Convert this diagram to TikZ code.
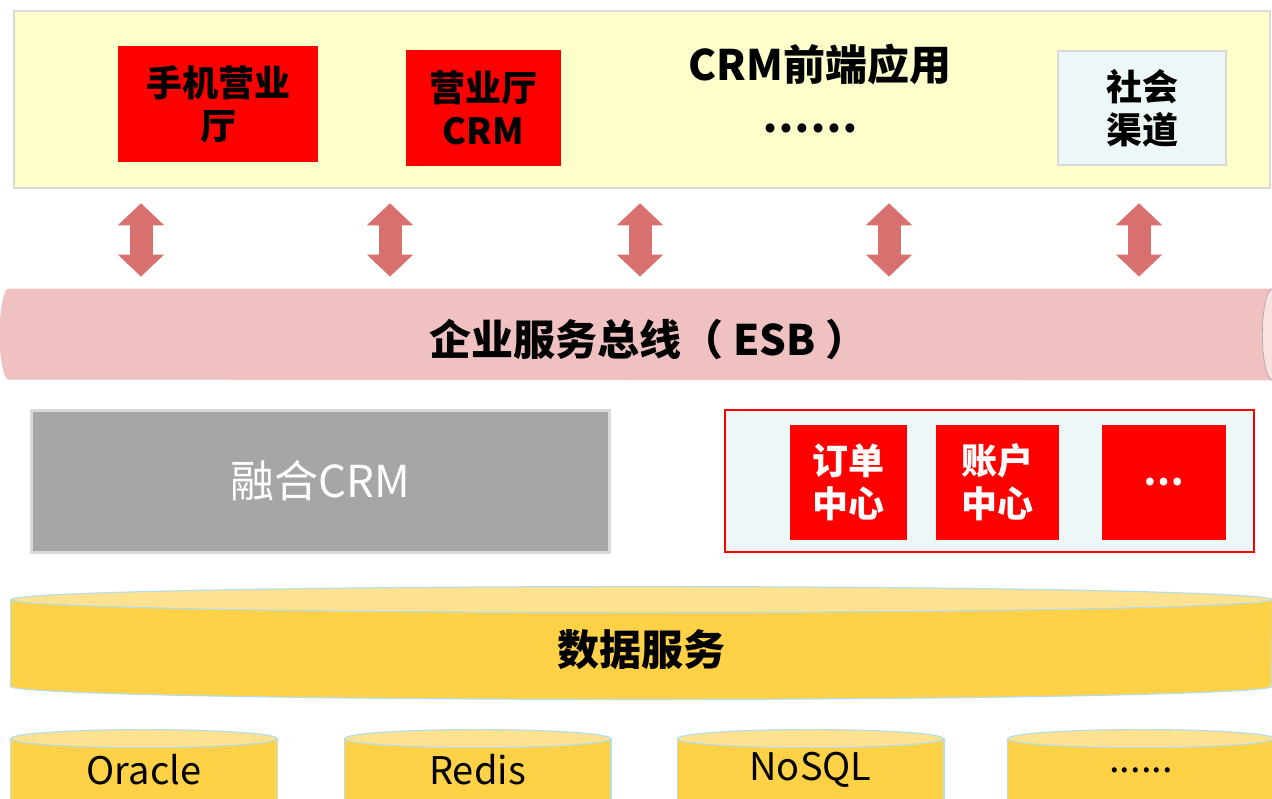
\documentclass[tikz,border=0pt]{standalone}
\usepackage{fontspec}
\setmainfont{Noto Sans CJK SC}
\usepackage{tikz}
\usetikzlibrary{arrows.meta, positioning}
\definecolor{linegray}{HTML}{D9D9D9}
\definecolor{frontbg}{HTML}{FFFFCC}
\definecolor{paleblue}{HTML}{EEF7F7}
\definecolor{appred}{HTML}{FF0000}
\definecolor{busred}{HTML}{D97070}
\definecolor{esbbody}{HTML}{F0C1C1}
\definecolor{esbend}{HTML}{F8E2E2}
\definecolor{fusiongray}{HTML}{A6A6A6}
\definecolor{dbbody}{HTML}{FFD147}
\definecolor{dbtop}{HTML}{FFE290}
\definecolor{dbline}{HTML}{B7DDE6}
\newcommand{\moredots}{......}
\tikzset{
    framenode/.style = {draw=linegray, rectangle, inner sep=0em, line width=1.25pt, align=center},
    appnode/.style = {rectangle, fill=appred, inner sep=0em, align=center,
      font=\bfseries\fontsize{18}{21.5}\selectfont},
    centernode/.style = {appnode, text=white},
    textnode/.style = {draw=none, fill=none, inner sep=0em, font=\bfseries\fontsize{21}{25}\selectfont},
    bodynode/.style = {rectangle, draw=none, inner sep=0em},
    dbbodyline/.style = {fill=dbbody, draw=dbline, line width=0.6pt},
    dbtopline/.style = {fill=dbtop, draw=dbline, line width=0.6pt},
    busarrow/.style = {busred, line width=11.5pt, shorten <=7pt, shorten >=6pt,
      {Triangle[width=22.5pt,length=11pt]}-{Triangle[width=22.5pt,length=11pt]}}
}
\begin{document}
\begin{tikzpicture}[x=0.5pt, y=-0.5pt]
    \clip (0,0) rectangle (1272,798);
    \fill[white] (0,0) rectangle (1272,798);

    % front-end applications
    \node [name=front, framenode, fill=frontbg, minimum width=628pt, minimum height=88.5pt] at (642,99.5) {};
    \node [name=mobile, appnode, minimum width=100pt, minimum height=58pt] at (218,104) {手机营业\\厅};
    \node [name=hall, appnode, minimum width=77.5pt, minimum height=58pt] at (483.5,108) {营业厅\\CRM};
    \node [name=fronttitle, textnode] at (820,64) {CRM前端应用};
    \node [name=frontdots, textnode] at (810,128) {……};
    \node [name=social, framenode, fill=paleblue, minimum width=84pt, minimum height=57pt,
      font=\bfseries\fontsize{18}{21.5}\selectfont] at (1142,108) {社会\\渠道};

    % service bus (pipe)
    \node [name=esb, bodynode, minimum width=631.5pt, minimum height=45.5pt] at (640.5,334.5) {};
    \fill[esbbody] (esb.north east) -- (esb.north west)
      arc[start angle=90, end angle=270, x radius=4.5pt, y radius=22.75pt] -- (esb.south east) -- cycle;
    \filldraw[fill=esbend, draw=black!35, line width=0.3pt] (esb.east) ellipse [x radius=5pt, y radius=22.75pt];
    \node [name=esblabel, textnode, xshift=4pt, yshift=-2.5pt] at (esb.center) {企业服务总线（ ESB ）};

    \foreach \x in {141,390,640,889,1139}
      \draw[busarrow] (front.south -| \x,0) -- (esb.north -| \x,0);

    % business layer
    \node [name=fusion, framenode, fill=fusiongray, line width=1.5pt, minimum width=289pt, minimum height=71pt,
      text=white, font=\fontsize{22}{26}\selectfont] at (320.5,481) {融合CRM};
    \node [name=centers, rectangle, draw=appred, line width=0.6pt, fill=paleblue, minimum width=264.5pt,
      minimum height=71pt] at (989.5,481) {};
    \node [name=order, centernode, minimum width=58.5pt, minimum height=57.5pt] at (848.5,482.5) {订单\\中心};
    \node [name=account, centernode, minimum width=61.5pt, minimum height=57.5pt] at (997.5,482.5) {账户\\中心};
    \node [name=moreapp, centernode, minimum width=62pt, minimum height=57.5pt] at (1164,482.5) {…};

    % data layer (cylinders)
    \node [name=data, bodynode, minimum width=630.5pt, minimum height=43pt] at (641.5,643) {};
    \filldraw[dbbodyline] (data.north west) -- (data.south west)
      arc[start angle=180, end angle=360, x radius=315.25pt, y radius=6.5pt] -- (data.north east) -- cycle;
    \filldraw[dbtopline] (data.north) ellipse [x radius=315.25pt, y radius=6.5pt];
    \node [name=datalabel, textnode] at (641,650) {数据服务};

    \foreach \name/\x/\txt in {oracle/144/Oracle, redis/477.5/Redis, nosql/810.5/NoSQL, moredb/1141/\moredots}{
      \node [name=\name, bodynode, minimum width=133pt, minimum height=40pt] at (\x,779) {};
      \filldraw[dbbodyline] (\name.north west) -- (\name.south west) -- (\name.south east) -- (\name.north east) -- cycle;
      \filldraw[dbtopline] (\name.north) ellipse [x radius=66.5pt, y radius=4.5pt];
      \node [name=\name label, font=\fontsize{19}{23}\selectfont, inner sep=0em] at (\x,770) {\txt};
    }
\end{tikzpicture}
\end{document}
